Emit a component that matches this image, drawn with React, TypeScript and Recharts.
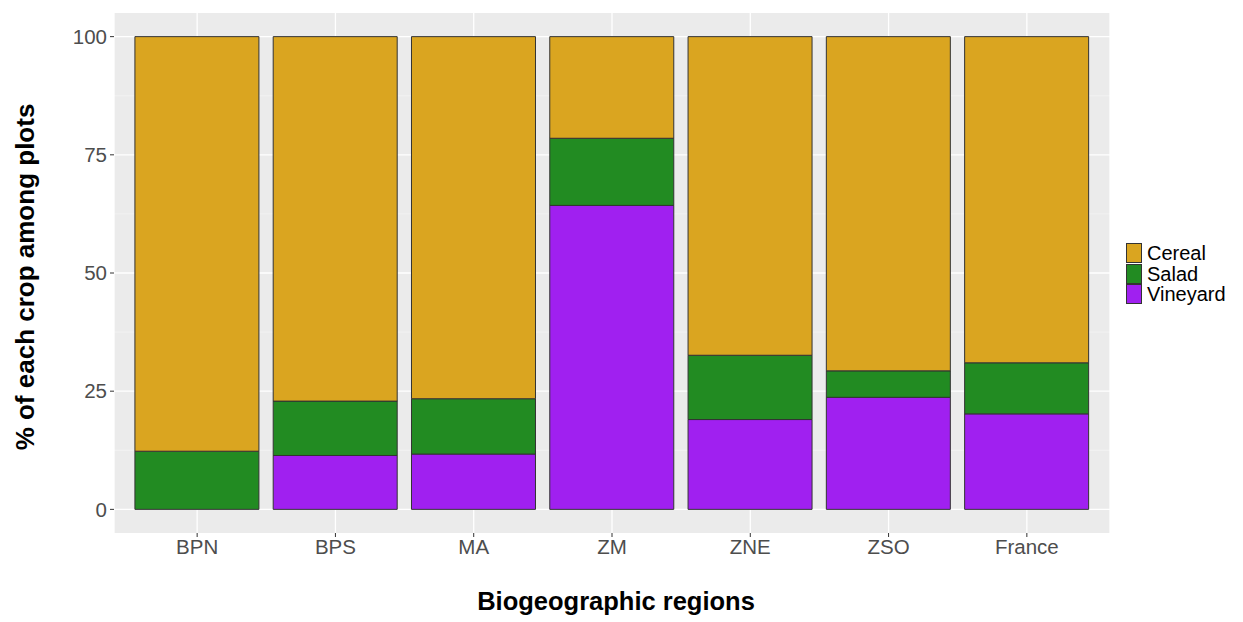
import { Bar, BarChart, CartesianGrid, XAxis, YAxis } from 'recharts';

const regions = ['BPN', 'BPS', 'MA', 'ZM', 'ZNE', 'ZSO', 'France'];
const vineyard = [0, 11.4, 11.7, 64.3, 19.0, 23.7, 20.2];
const salad = [12.3, 11.5, 11.7, 14.2, 13.6, 5.6, 10.8];
const cereal = [87.7, 77.1, 76.6, 21.5, 67.4, 70.7, 69.0];
const yTicks = [0, 25, 50, 75, 100];
const minorTicks = [12.5, 37.5, 62.5, 87.5];

const crops = [
  { key: 'Cereal', color: '#DAA520' },
  { key: 'Salad', color: '#228B22' },
  { key: 'Vineyard', color: '#A020F0' },
];

const data = regions.map((region, i) => ({
  region,
  Vineyard: vineyard[i],
  Salad: salad[i],
  Cereal: cereal[i],
}));

const font = '"Liberation Sans", Arial, sans-serif';

function CropLegend() {
  return (
    <div
      style={{
        position: 'absolute',
        left: 1126,
        top: 243,
        fontFamily: font,
        fontSize: 20,
        color: '#000',
      }}
    >
      {crops.map((c) => (
        <div key={c.key} style={{ display: 'flex', alignItems: 'center', height: 20.5 }}>
          <span
            style={{
              width: 14,
              height: 18,
              background: c.color,
              border: '1px solid #333',
              marginRight: 5,
            }}
          />
          <span style={{ lineHeight: '20px', height: 20, overflow: 'visible' }}>{c.key}</span>
        </div>
      ))}
    </div>
  );
}

export default function App() {
  return (
    <div style={{ position: 'absolute', left: 0, top: 0, width: 1243, height: 622, background: '#fff' }}>
      <BarChart
        width={1243}
        height={622}
        data={data}
        margin={{ top: 13, right: 133, bottom: 0, left: 60 }}
        barCategoryGap="5%"
      >
        <CartesianGrid
          fill="#EBEBEB"
          stroke="#F5F5F5"
          strokeWidth={0.7}
          vertical={false}
          horizontalValues={minorTicks}
        />
        <CartesianGrid stroke="#FFFFFF" strokeWidth={1.3} horizontalValues={yTicks} />
        <XAxis
          dataKey="region"
          height={89}
          padding={{ left: 14, right: 14 }}
          axisLine={false}
          tickLine={{ stroke: '#333333' }}
          tickSize={4}
          tick={{ fill: '#4D4D4D', fontSize: 20.5, fontFamily: font }}
          tickMargin={2}
        />
        <YAxis
          width={54}
          domain={[-5, 105]}
          ticks={yTicks}
          allowDataOverflow
          axisLine={false}
          tickLine={{ stroke: '#333333' }}
          tickSize={4}
          tick={{ fill: '#4D4D4D', fontSize: 20.5, fontFamily: font }}
          tickMargin={3}
        />
        {[...crops].reverse().map((c) => (
          <Bar
            key={c.key}
            dataKey={c.key}
            stackId="crops"
            fill={c.color}
            stroke="#333333"
            strokeWidth={1}
            isAnimationActive={false}
          />
        ))}
      </BarChart>
      <CropLegend />
      <div
        style={{
          position: 'absolute',
          left: 25,
          top: 277,
          transform: 'translate(-50%, -50%) rotate(-90deg)',
          whiteSpace: 'nowrap',
          fontFamily: font,
          fontWeight: 'bold',
          fontSize: 26,
          color: '#000',
        }}
      >
        % of each crop among plots
      </div>
      <div
        style={{
          position: 'absolute',
          left: 616,
          top: 601,
          transform: 'translate(-50%, -50%)',
          whiteSpace: 'nowrap',
          fontFamily: font,
          fontWeight: 'bold',
          fontSize: 25.5,
          color: '#000',
        }}
      >
        Biogeographic regions
      </div>
    </div>
  );
}
